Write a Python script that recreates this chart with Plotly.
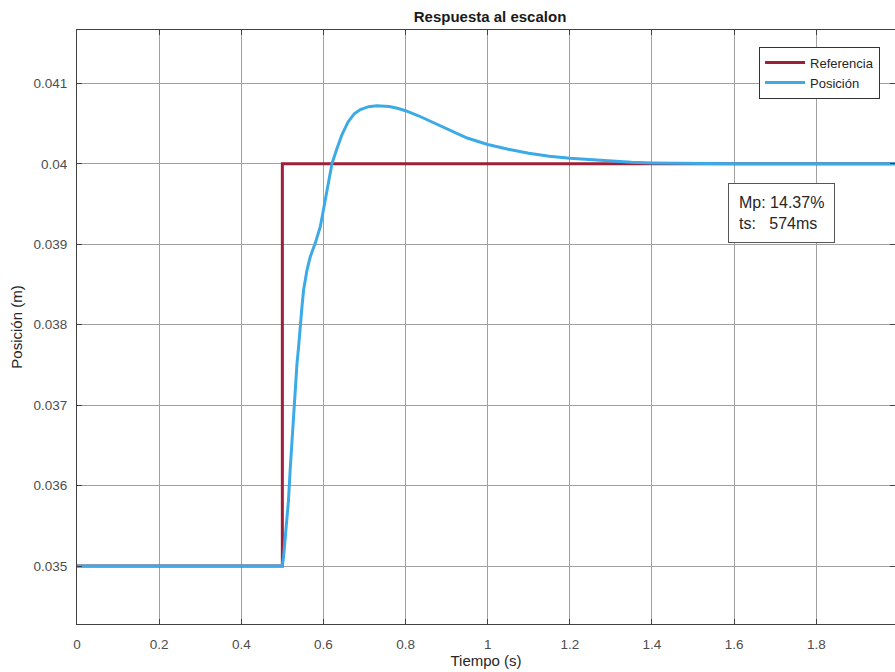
import plotly.graph_objects as go

# Reference step
t_ref = [0.0, 0.5, 0.5, 2.0]
y_ref = [0.035, 0.035, 0.040, 0.040]

# Position response
t_pos = [0.0, 0.5, 0.503, 0.507, 0.511, 0.515, 0.519, 0.5235, 0.5274, 0.5315, 0.5357,
         0.5396, 0.5437, 0.5478, 0.5517, 0.560, 0.568, 0.580, 0.5924, 0.6046, 0.6127,
         0.621, 0.633, 0.645, 0.66, 0.675, 0.69, 0.71, 0.73, 0.745, 0.76, 0.78, 0.80,
         0.83, 0.86, 0.90, 0.95, 1.0, 1.05, 1.1, 1.15, 1.2, 1.25, 1.3, 1.35, 1.4, 1.5,
         1.6, 2.0]
y_pos = [0.035, 0.035, 0.035116, 0.035323, 0.035572, 0.03582, 0.036193, 0.036566,
         0.03698, 0.037271, 0.03752, 0.037726, 0.038017, 0.038223, 0.038431, 0.038679,
         0.038845, 0.039011, 0.039218, 0.03955, 0.039757, 0.040006, 0.04019, 0.04036,
         0.04052, 0.04062, 0.040675, 0.04071, 0.04072, 0.04072, 0.040712, 0.04069,
         0.04066, 0.04060, 0.04053, 0.04043, 0.04032, 0.04024, 0.04018, 0.04013,
         0.040095, 0.04007, 0.04005, 0.04003, 0.040018, 0.04001, 0.040003, 0.04000,
         0.04000]

x_ticks = [0, 0.2, 0.4, 0.6, 0.8, 1, 1.2, 1.4, 1.6, 1.8, 2]
x_ticktext = ["0", "0.2", "0.4", "0.6", "0.8", "1", "1.2", "1.4", "1.6", "1.8", "2"]
y_ticks = [0.035, 0.036, 0.037, 0.038, 0.039, 0.040, 0.041]
y_ticktext = ["0.035", "0.036", "0.037", "0.038", "0.039", "0.04", "0.041"]

FONT = "Liberation Sans, Arial, Helvetica, sans-serif"

fig = go.Figure()
fig.add_trace(go.Scatter(x=t_ref, y=y_ref, mode="lines", name="Referencia",
                         line=dict(color="#9E1F38", width=3)))
fig.add_trace(go.Scatter(x=t_pos, y=y_pos, mode="lines", name="Posición",
                         line=dict(color="#3DAAE8", width=3)))

fig.update_layout(
    width=895, height=672,
    paper_bgcolor="white", plot_bgcolor="white",
    margin=dict(l=77, r=0, t=30, b=48),
    font=dict(family=FONT, size=13, color="#4d4d4d"),
    title=dict(text="<b>Respuesta al escalon</b>", x=0.5475, xanchor="center",
               y=0.975, yanchor="middle", font=dict(size=15, color="#1a1a1a")),
    showlegend=True,
    legend=dict(x=0.9817, xanchor="right", y=0.972, yanchor="top",
                bgcolor="white", bordercolor="#333333", borderwidth=1,
                font=dict(size=13, color="#262626"), tracegroupgap=0,
                itemwidth=40),
    xaxis=dict(range=[0, 1.9917], tickvals=x_ticks, ticktext=x_ticktext,
               showgrid=True, gridcolor="#a0a0a0", gridwidth=1,
               showline=True, linecolor="#404040", linewidth=1, mirror="ticks",
               ticks="inside", ticklen=5, tickcolor="#404040",
               zeroline=False, tickfont=dict(size=13.5, color="#4d4d4d"),
               ticklabelstandoff=8,
               title=dict(text="Tiempo (s)", font=dict(size=15, color="#262626"), standoff=3)),
    yaxis=dict(range=[0.034279, 0.041663], tickvals=y_ticks, ticktext=y_ticktext,
               showgrid=True, gridcolor="#a0a0a0", gridwidth=1,
               showline=True, linecolor="#404040", linewidth=1, mirror="ticks",
               ticks="inside", ticklen=5, tickcolor="#404040",
               zeroline=False, tickfont=dict(size=13.5, color="#4d4d4d"),
               ticklabelstandoff=6,
               title=dict(text="Posición (m)", font=dict(size=15, color="#262626"), standoff=7)),
)

fig.add_annotation(
    xref="paper", yref="paper", x=0.7958, y=0.7424, xanchor="left", yanchor="top",
    text="Mp: 14.37%<br>ts:\u00a0\u00a0\u00a0574ms", showarrow=False, align="left",
    font=dict(size=16, color="#262626"), bgcolor="white",
    bordercolor="#555555", borderwidth=1, borderpad=10,
)

fig.write_html("out.html", config={"displayModeBar": False},
               post_script="document.body.style.margin='0px';")
